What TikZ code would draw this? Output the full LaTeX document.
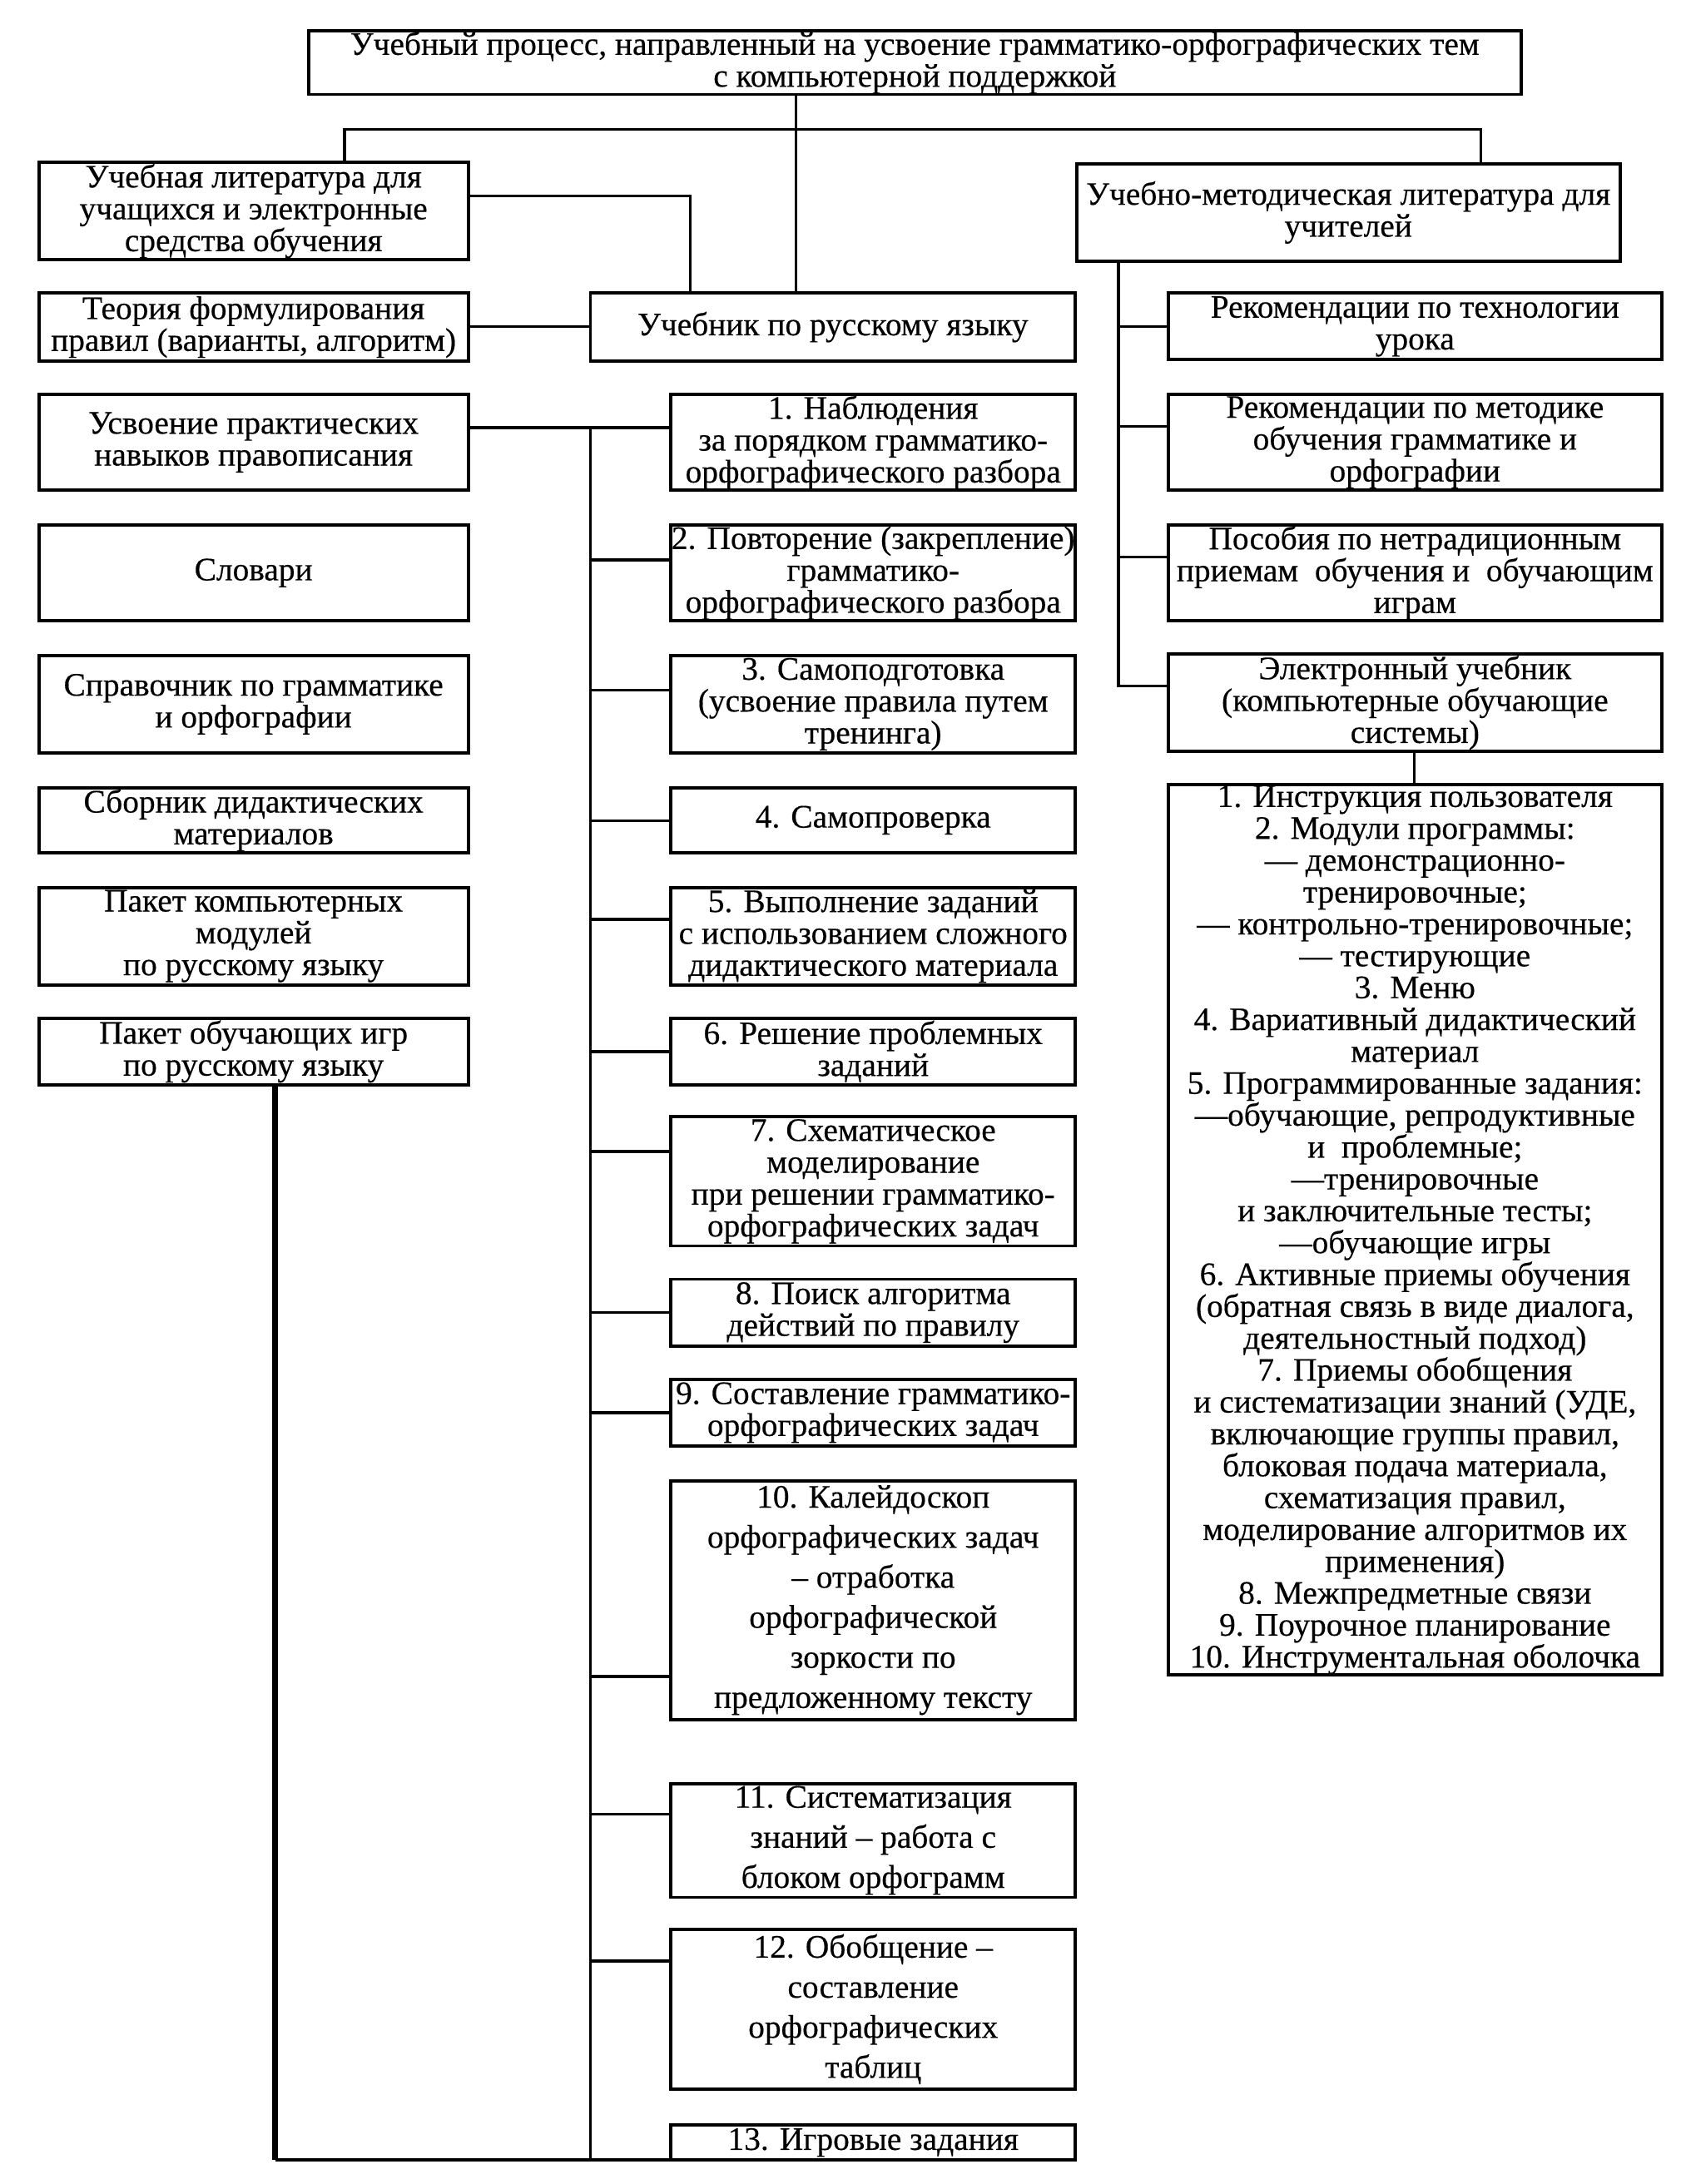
\documentclass[tikz,border=0pt]{standalone}
\usepackage{fontspec}
\setmainfont[FakeBold=0.4]{Liberation Serif}
\usetikzlibrary{calc}
\tikzset{
  box/.style={draw, line width=1.1pt, inner sep=0pt, outer sep=0pt, align=center,
    font=\fontsize{11.2}{10.9}\selectfont},
  loose/.style={font=\fontsize{11.2}{13.7}\selectfont},
  conn/.style={line width=1pt},
  heavy/.style={line width=1.8pt},
}
\newcommand\mybox[7]{%
  \pgfmathsetlengthmacro\bxw{(#4-#2)*0.16694mm}%
  \pgfmathsetlengthmacro\bxh{(#5-#3)*0.16694mm}%
  \node[box,#6,minimum width=\bxw,minimum height=\bxh] (#1) at ({(#2+#4)/2},{(#3+#5)/2}) {#7};}
\begin{document}
\begin{tikzpicture}[x=0.16694mm, y=-0.16694mm]
\useasboundingbox (0,0) rectangle (1213,1572.4);
% top level
\mybox{top}{222}{22}{1095}{68}{}{Учебный процесс, направленный на усвоение грамматико-орфографических тем\\с компьютерной поддержкой}
\mybox{lit}{28}{117}{337}{187}{}{Учебная литература для\\учащихся и электронные\\средства обучения}
\mybox{metod}{775}{118}{1166}{188}{}{Учебно-методическая литература для\\учителей}
\mybox{teor}{28}{211}{337}{260}{}{Теория формулирования\\правил (варианты, алгоритм)}
\mybox{ucheb}{425}{211}{774}{260}{}{Учебник по русскому языку}
% right column
\mybox{r1}{841}{211}{1196}{259}{}{Рекомендации по технологии\\урока}
\mybox{r2}{841}{284}{1196}{353}{}{Рекомендации по методике\\обучения грамматике и\\орфографии}
\mybox{r3}{841}{378}{1196}{447}{}{Пособия по нетрадиционным\\приемам\ \ обучения и\ \ обучающим\\играм}
\mybox{el}{841}{471}{1196}{541}{}{Электронный учебник\\(компьютерные обучающие\\системы)}
\mybox{big}{841}{565}{1196}{1206}{}{1. Инструкция пользователя\\2. Модули программы:\\— демонстрационно-\\тренировочные;\\— контрольно-тренировочные;\\— тестирующие\\3. Меню\\4. Вариативный дидактический\\материал\\5. Программированные задания:\\—обучающие, репродуктивные\\и\ \ проблемные;\\—тренировочные\\и заключительные тесты;\\—обучающие игры\\6. Активные приемы обучения\\(обратная связь в виде диалога,\\деятельностный подход)\\7. Приемы обобщения\\и систематизации знаний (УДЕ,\\включающие группы правил,\\блоковая подача материала,\\схематизация правил,\\моделирование алгоритмов их\\применения)\\8. Межпредметные связи\\9. Поурочное планирование\\10. Инструментальная оболочка}
% left column
\mybox{usv}{28}{284}{337}{353}{}{Усвоение практических\\навыков правописания}
\mybox{slov}{28}{378}{337}{447}{}{Словари}
\mybox{sprav}{28}{472}{337}{542}{}{Справочник по грамматике\\и орфографии}
\mybox{sborn}{28}{567}{337}{614}{}{Сборник дидактических\\материалов}
\mybox{paket}{28}{639}{337}{709}{}{Пакет компьютерных\\модулей\\по русскому языку}
\mybox{igry}{28}{733}{337}{781}{}{Пакет обучающих игр\\по русскому языку}
% middle column
\mybox{b1}{483}{284}{774}{353}{}{1. Наблюдения\\за порядком грамматико-\\орфографического разбора}
\mybox{b2}{483}{378}{774}{447}{}{2. Повторение (закрепление)\\грамматико-\\орфографического разбора}
\mybox{b3}{483}{472}{774}{542}{}{3. Самоподготовка\\(усвоение правила путем\\тренинга)}
\mybox{b4}{483}{567}{774}{614}{}{4. Самопроверка}
\mybox{b5}{483}{639}{774}{709}{}{5. Выполнение заданий\\с использованием сложного\\дидактического материала}
\mybox{b6}{483}{733}{774}{781}{}{6. Решение проблемных\\заданий}
\mybox{b7}{483}{804}{774}{897}{}{7. Схематическое\\моделирование\\при решении грамматико-\\орфографических задач}
\mybox{b8}{483}{921}{774}{969}{}{8. Поиск алгоритма\\действий по правилу}
\mybox{b9}{483}{993}{774}{1041}{}{9. Составление грамматико-\\орфографических задач}
\mybox{b10}{483}{1066}{774}{1238}{loose}{10. Калейдоскоп\\орфографических задач\\– отработка\\орфографической\\зоркости по\\предложенному тексту}
\mybox{b11}{483}{1284}{774}{1366}{loose}{11. Систематизация\\знаний – работа с\\блоком орфограмм}
\mybox{b12}{483}{1389}{774}{1504}{loose}{12. Обобщение –\\составление\\орфографических\\таблиц}
\mybox{b13}{483}{1530}{774}{1555}{}{13. Игровые задания}
% junction coordinates
\coordinate (trunk) at (573,93);
\coordinate (rsp) at (805,0);
\coordinate (msp) at (425,0);
\coordinate (lsp) at (198,0);
\coordinate (elx) at (1018,0);
% top connectors
\draw[conn] (top.south -| trunk) -- (ucheb.north -| trunk);
\draw[conn] ($(lit.north west)+(220,0)$) |- (trunk) -| ($(metod.north west)+(291,0)$);
\draw[conn] (lit.east |- 0,141) -| (ucheb.north -| 497,0);
\draw[conn] (teor.east |- 0,235) -- (ucheb.west |- 0,235);
% right spine
\draw[conn] (metod.south -| rsp) |- (el.west |- 0,494);
\draw[conn] (rsp |- 0,235) -- (r1.west |- 0,235);
\draw[conn] (rsp |- 0,307) -- (r2.west |- 0,307);
\draw[conn] (rsp |- 0,401) -- (r3.west |- 0,401);
\draw[conn] (el.south -| elx) -- (big.north -| elx);
% middle spine
\draw[conn] (usv.east |- 0,308) -- (b1.west |- 0,308);
\draw[conn] (msp |- 0,308) -- (msp |- b13.south);
\draw[conn] (msp |- 0,403) -- (b2.west |- 0,403);
\draw[conn] (msp |- 0,497) -- (b3.west |- 0,497);
\draw[conn] (msp |- 0,591) -- (b4.west |- 0,591);
\draw[conn] (msp |- 0,662) -- (b5.west |- 0,662);
\draw[conn] (msp |- 0,757) -- (b6.west |- 0,757);
\draw[conn] (msp |- 0,829) -- (b7.west |- 0,829);
\draw[conn] (msp |- 0,945) -- (b8.west |- 0,945);
\draw[conn] (msp |- 0,1017) -- (b9.west |- 0,1017);
\draw[conn] (msp |- 0,1207) -- (b10.west |- 0,1207);
\draw[conn] (msp |- 0,1306) -- (b11.west |- 0,1306);
\draw[conn] (msp |- 0,1412) -- (b12.west |- 0,1412);
% games line
\draw[heavy] (igry.south -| lsp) -- (lsp |- b13.south);
\draw[conn] (lsp |- b13.south) -- (b13.south west);
\end{tikzpicture}
\end{document}
